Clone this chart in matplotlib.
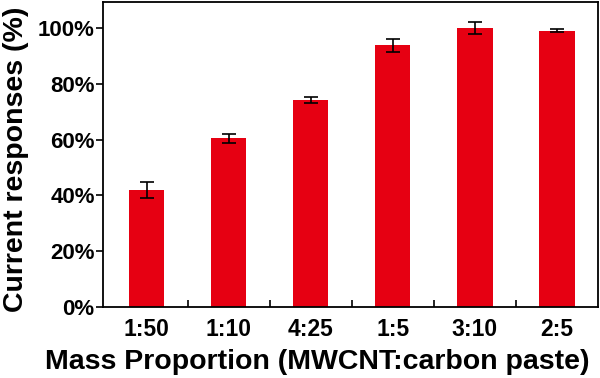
import matplotlib
matplotlib.use("Agg")
from matplotlib import pyplot as plt
from matplotlib.ticker import FuncFormatter
import numpy as np

labels = ["1:50", "1:10", "4:25", "1:5", "3:10", "2:5"]
responses = [41.9, 60.4, 74.2, 93.8, 100.0, 99.0]
errors = [3.0, 1.6, 1.2, 2.3, 2.3, 0.6]

plt.rcParams['font.family'] = ['Liberation Sans', 'DejaVu Sans']
plt.rcParams['font.weight'] = 'bold'

fig = plt.figure(figsize=(6, 3.78), dpi=100)
ax = fig.add_axes([103 / 600, 1 - 307 / 378, 495 / 600, 305 / 378])

x = np.arange(len(labels))
ax.bar(x, responses, 0.43, color='#e60012', yerr=errors, capsize=5,
       error_kw=dict(ecolor='black', elinewidth=1.2, capthick=1.2))

ax.set_xlim(-0.53, 5.5)
ax.set_ylim(0, 109.3)
ax.set_yticks(np.arange(0, 101, 20))
ax.yaxis.set_major_formatter(FuncFormatter(lambda v, p: f"{v:.0f}%"))
ax.set_xticks(x)
ax.set_xticklabels(labels)
ax.set_xticks(x[:-1] + 0.5, minor=True)
ax.tick_params(axis='x', which='major', length=0, pad=8, labelsize=16.5)
ax.tick_params(axis='x', which='minor', direction='in', length=5, width=1.2)
ax.tick_params(axis='y', direction='out', length=5, width=1.2, labelsize=16, pad=1)

for s in ax.spines.values():
    s.set_linewidth(1.3)

ax.set_xlabel("Mass Proportion (MWCNT:carbon paste)", fontsize=20.5, fontweight='bold')
ax.set_ylabel("Current responses (%)", fontsize=20.5, fontweight='bold')
# label placement in axes coordinates, as in the original layout
ax.xaxis.set_label_coords(0.432, -0.137)
ax.yaxis.set_label_coords(-0.15, 0.485)

fig.savefig("out.png", dpi=100)
